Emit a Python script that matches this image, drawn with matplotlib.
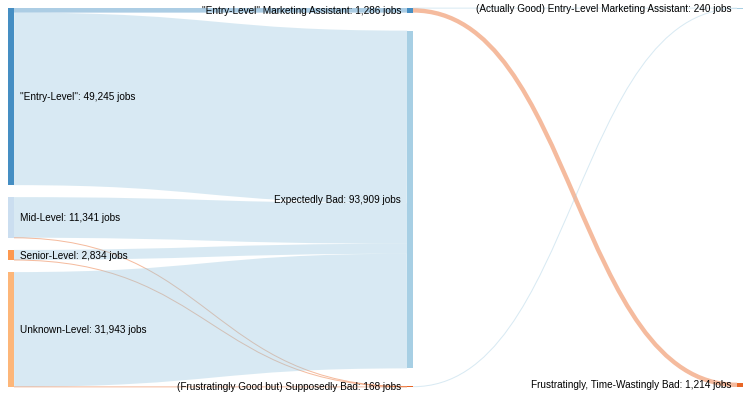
import matplotlib
matplotlib.use("Agg")
import matplotlib.pyplot as plt
from matplotlib.path import Path
from matplotlib.patches import PathPatch, Rectangle

# ---------------- data ----------------
node_names = [
    '"Entry-Level"',
    'Mid-Level',
    'Senior-Level',
    'Unknown-Level',
    '"Entry-Level" Marketing Assistant',
    'Expectedly Bad',
    '(Frustratingly Good but) Supposedly Bad',
    '(Actually Good) Entry-Level Marketing Assistant',
    'Frustratingly, Time-Wastingly Bad',
]
node_colors = [
    '#3182bd', '#c6dbef', '#fd8d3c', '#fdae6b',
    '#3182bd', '#9ecae1', '#e6550d',
    '#9ecae1', '#e6550d',
]
link_source = [0, 0, 1, 1, 2, 2, 3, 3, 4, 4, 6]
link_target = [4, 5, 5, 6, 5, 6, 5, 6, 7, 8, 7]
link_value = [1286, 47959, 11284, 57, 2790, 44, 31876, 67, 72, 1214, 168]

# ---------------- layout (styles) ----------------
W, H, DPI = 750, 395, 100
EXT_X0, EXT_X1, EXT_Y0, EXT_Y1 = 8, 743, 8, 387
NODE_W = 6
PAD = 12
COL_FRAC = [0.0, 0.5473, 1.0]
LINK_ALPHA = 0.4
NODE_ALPHA = 0.9
FONT = ['Liberation Sans', 'DejaVu Sans']
FS_PX = 10

n = len(node_names)
vin = [0] * n
vout = [0] * n
for s, t, v in zip(link_source, link_target, link_value):
    vout[s] += v
    vin[t] += v
value = [max(a, b) for a, b in zip(vin, vout)]

# depth (left aligned)
depth = [0] * n
changed = True
while changed:
    changed = False
    for s, t in zip(link_source, link_target):
        if depth[t] < depth[s] + 1:
            depth[t] = depth[s] + 1
            changed = True
ncol = max(depth) + 1
columns = [[i for i in range(n) if depth[i] == c] for c in range(ncol)]

span = EXT_Y1 - EXT_Y0
ky = min((span - (len(c) - 1) * PAD) / sum(value[i] for i in c) for c in columns)

x0 = [0.0] * n
y0 = [0.0] * n
y1 = [0.0] * n
for ci, col in enumerate(columns):
    xpos = EXT_X0 + COL_FRAC[ci] * (EXT_X1 - NODE_W - EXT_X0)
    total = sum(value[i] * ky for i in col)
    free = span - total
    gap = free / (len(col) - 1) if len(col) > 1 else free / 2
    y = EXT_Y0 if len(col) > 1 else EXT_Y0 + gap
    for i in col:
        x0[i] = xpos
        y0[i] = y
        y1[i] = y + value[i] * ky
        y = y1[i] + gap

L = len(link_value)
lw = [v * ky for v in link_value]
ly_src = [0.0] * L
ly_tgt = [0.0] * L
for i in range(n):
    outs = sorted([k for k in range(L) if link_source[k] == i], key=lambda k: (y0[link_target[k]], k))
    yy = y0[i]
    for k in outs:
        ly_src[k] = yy + lw[k] / 2
        yy += lw[k]
    ins = sorted([k for k in range(L) if link_target[k] == i], key=lambda k: (y0[link_source[k]], k))
    yy = y0[i]
    for k in ins:
        ly_tgt[k] = yy + lw[k] / 2
        yy += lw[k]

# ---------------- draw ----------------
fig = plt.figure(figsize=(W / DPI, H / DPI), dpi=DPI)
ax = fig.add_axes([0, 0, 1, 1])
ax.set_xlim(0, W)
ax.set_ylim(H, 0)
ax.axis('off')

for k in range(L):
    s, t = link_source[k], link_target[k]
    xa = x0[s] + NODE_W
    xb = x0[t]
    xm = (xa + xb) / 2
    path = Path([(xa, ly_src[k]), (xm, ly_src[k]), (xm, ly_tgt[k]), (xb, ly_tgt[k])],
                [Path.MOVETO, Path.CURVE4, Path.CURVE4, Path.CURVE4])
    ax.add_patch(PathPatch(path, fill=False, edgecolor=node_colors[t], alpha=LINK_ALPHA,
                           lw=max(1.0, lw[k]) * 72 / DPI, capstyle='butt'))

for i in range(n):
    ax.add_patch(Rectangle((x0[i], y0[i]), NODE_W, y1[i] - y0[i], facecolor=node_colors[i],
                           alpha=NODE_ALPHA, lw=0))
    cy = (y0[i] + y1[i]) / 2 + 0.35 * FS_PX
    if x0[i] < W / 2:
        ax.text(x0[i] + NODE_W + 6, cy, f"{node_names[i]}: {value[i]:,} jobs", ha='left', va='baseline',
                fontsize=FS_PX * 72 / DPI, family=FONT, color='#000000')
    else:
        ax.text(x0[i] - 6, cy, f"{node_names[i]}: {value[i]:,} jobs", ha='right', va='baseline',
                fontsize=FS_PX * 72 / DPI, family=FONT, color='#000000')

fig.savefig('out.png', dpi=DPI)
